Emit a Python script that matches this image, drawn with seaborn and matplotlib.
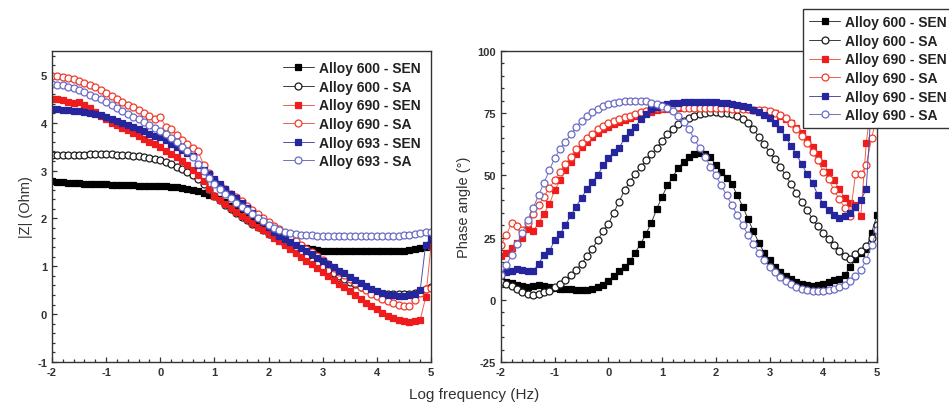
import numpy as np
import pandas as pd
import matplotlib
matplotlib.use("Agg")
import matplotlib.pyplot as plt
import seaborn as sns

# log frequency grid (Hz, log10)
log_freq = [-2.0, -1.9, -1.8, -1.7, -1.6, -1.5, -1.4, -1.3, -1.2, -1.1,
            -1.0, -0.9, -0.8, -0.7, -0.6, -0.5, -0.4, -0.3, -0.2, -0.1,
            0.0, 0.1, 0.2, 0.3, 0.4, 0.5, 0.6, 0.7, 0.8, 0.9,
            1.0, 1.1, 1.2, 1.3, 1.4, 1.5, 1.6, 1.7, 1.8, 1.9,
            2.0, 2.1, 2.2, 2.3, 2.4, 2.5, 2.6, 2.7, 2.8, 2.9,
            3.0, 3.1, 3.2, 3.3, 3.4, 3.5, 3.6, 3.7, 3.8, 3.9,
            4.0, 4.1, 4.2, 4.3, 4.4, 4.5, 4.6, 4.7, 4.8, 4.9,
            5.0]

# |Z| values (left panel)
z_600_sen = [2.78, 2.77, 2.76, 2.75, 2.75, 2.74, 2.73, 2.72, 2.72, 2.71,
             2.71, 2.70, 2.70, 2.69, 2.69, 2.69, 2.68, 2.68, 2.68, 2.68,
             2.67, 2.67, 2.66, 2.65, 2.64, 2.62, 2.60, 2.57, 2.54, 2.50,
             2.46, 2.40, 2.34, 2.27, 2.20, 2.13, 2.06, 1.98, 1.91, 1.84,
             1.77, 1.70, 1.63, 1.57, 1.51, 1.46, 1.42, 1.38, 1.36, 1.34,
             1.33, 1.32, 1.32, 1.31, 1.31, 1.31, 1.31, 1.31, 1.31, 1.31,
             1.31, 1.31, 1.31, 1.32, 1.32, 1.33, 1.34, 1.36, 1.38, 1.41,
             1.45]
z_600_sa = [3.32, 3.32, 3.32, 3.33, 3.33, 3.33, 3.33, 3.34, 3.34, 3.34,
            3.34, 3.34, 3.33, 3.33, 3.32, 3.31, 3.30, 3.29, 3.27, 3.25,
            3.22, 3.18, 3.13, 3.08, 3.03, 2.97, 2.90, 2.82, 2.72, 2.60,
            2.48, 2.38, 2.29, 2.20, 2.12, 2.04, 1.96, 1.89, 1.82, 1.75,
            1.68, 1.61, 1.54, 1.47, 1.40, 1.33, 1.26, 1.19, 1.12, 1.05,
            0.98, 0.92, 0.86, 0.80, 0.74, 0.68, 0.62, 0.57, 0.52, 0.48,
            0.45, 0.43, 0.42, 0.42, 0.42, 0.42, 0.43, 0.45, 0.48, 0.52,
            0.56]
z_690_sen = [4.50, 4.49, 4.47, 4.44, 4.42, 4.44, 4.38, 4.30, 4.23, 4.15,
             4.07, 4.00, 3.95, 3.90, 3.84, 3.78, 3.72, 3.66, 3.60, 3.55,
             3.50, 3.42, 3.35, 3.28, 3.20, 3.12, 3.02, 2.90, 2.78, 2.62,
             2.47, 2.38, 2.30, 2.22, 2.14, 2.06, 1.98, 1.90, 1.82, 1.75,
             1.68, 1.60, 1.52, 1.44, 1.36, 1.28, 1.20, 1.12, 1.04, 0.96,
             0.88, 0.80, 0.72, 0.64, 0.56, 0.48, 0.40, 0.32, 0.24, 0.17,
             0.10, 0.03, -0.03, -0.08, -0.12, -0.15, -0.16, -0.15, -0.12, 0.35,
             1.42]
z_690_sa = [4.97, 4.97, 4.96, 4.94, 4.91, 4.87, 4.83, 4.78, 4.74, 4.68,
            4.62, 4.56, 4.50, 4.44, 4.38, 4.32, 4.26, 4.20, 4.14, 4.08,
            4.12, 3.92, 3.88, 3.75, 3.65, 3.56, 3.48, 3.40, 3.12, 2.95,
            2.80, 2.70, 2.61, 2.52, 2.44, 2.36, 2.27, 2.18, 2.10, 2.01,
            1.93, 1.85, 1.77, 1.69, 1.61, 1.53, 1.45, 1.37, 1.29, 1.21,
            1.13, 1.05, 0.97, 0.89, 0.81, 0.73, 0.65, 0.57, 0.50, 0.43,
            0.37, 0.32, 0.27, 0.23, 0.20, 0.18, 0.17, 0.30, 0.45, 0.52,
            0.55]
z_693_sen = [4.29, 4.28, 4.27, 4.26, 4.25, 4.24, 4.23, 4.21, 4.19, 4.16,
             4.12, 4.08, 4.04, 4.00, 3.96, 3.92, 3.87, 3.82, 3.77, 3.73,
             3.70, 3.63, 3.56, 3.49, 3.43, 3.37, 3.30, 3.12, 3.02, 2.92,
             2.82, 2.72, 2.62, 2.52, 2.42, 2.32, 2.22, 2.12, 2.02, 1.92,
             1.82, 1.72, 1.64, 1.57, 1.50, 1.44, 1.38, 1.32, 1.25, 1.18,
             1.12, 1.05, 0.98, 0.91, 0.85, 0.78, 0.72, 0.65, 0.58, 0.53,
             0.48, 0.44, 0.41, 0.39, 0.38, 0.38, 0.40, 0.43, 0.50, 1.45,
             1.60]
z_693_sa = [4.81, 4.80, 4.78, 4.75, 4.72, 4.68, 4.64, 4.59, 4.54, 4.49,
            4.43, 4.37, 4.31, 4.25, 4.19, 4.13, 4.07, 4.01, 3.95, 3.89,
            3.83, 3.76, 3.69, 3.60, 3.50, 3.40, 3.28, 3.13, 3.00, 2.85,
            2.72, 2.62, 2.52, 2.42, 2.33, 2.25, 2.17, 2.09, 2.01, 1.94,
            1.87, 1.81, 1.76, 1.72, 1.69, 1.67, 1.66, 1.65, 1.65, 1.64,
            1.64, 1.63, 1.63, 1.63, 1.63, 1.63, 1.63, 1.63, 1.63, 1.63,
            1.63, 1.63, 1.63, 1.64, 1.64, 1.65, 1.66, 1.67, 1.69, 1.71,
            1.72]

# phase angle values (right panel)
p_600_sen = [7.5, 7.2, 6.8, 6.0, 5.5, 5.0, 5.5, 6.0, 5.7, 5.2,
             4.8, 4.4, 4.3, 4.2, 4.0, 3.8, 4.0, 4.4, 5.0, 6.0,
             7.5, 9.5, 11.5, 13.0, 15.5, 19.0, 22.5, 26.5, 31.0, 36.5,
             41.5, 46.0, 49.5, 53.0, 55.5, 57.5, 58.8, 59.2, 58.8, 57.5,
             54.0, 51.5, 49.0, 46.5, 42.0, 37.5, 32.5, 27.5, 23.0, 19.0,
             16.0, 13.0, 11.0, 9.5, 8.3, 7.0, 6.3, 6.0, 5.7, 5.9,
             6.3, 7.0, 7.8, 8.5, 10.0, 13.0, 16.5, 19.0, 20.5, 27.0,
             34.0]
p_600_sa = [7.0, 6.5, 5.5, 4.5, 3.2, 2.3, 2.0, 2.5, 3.0, 3.5,
            5.0, 6.5, 8.0, 10.0, 12.0, 14.5, 17.5, 20.5, 24.0, 27.5,
            30.5, 35.0, 39.5, 44.0, 47.5, 50.5, 53.5, 56.0, 58.5, 61.0,
            64.0, 66.5, 68.5, 70.5, 72.0, 73.0, 74.0, 74.7, 75.1, 75.3,
            75.3, 75.2, 74.9, 74.5, 73.8, 72.8, 71.0, 68.5, 65.5, 62.5,
            59.5, 56.5, 53.5, 50.0, 46.5, 43.0, 39.5, 36.0, 32.5, 29.5,
            27.0, 24.5, 22.0, 19.5, 17.5, 16.5, 18.5, 19.5, 21.5, 25.0,
            30.0]
p_690_sen = [17.5, 19.0, 21.0, 23.0, 25.0, 28.5, 27.5, 31.0, 34.5, 38.5,
             44.0, 48.0, 52.0, 55.5, 58.5, 61.3, 63.5, 65.5, 67.0, 68.5,
             69.5, 70.5, 71.5, 72.3, 73.0, 73.7, 74.4, 75.0, 75.6, 76.1,
             76.5, 76.8, 77.0, 77.2, 77.4, 77.5, 77.6, 77.6, 77.6, 77.6,
             77.5, 77.5, 77.4, 77.3, 77.1, 76.9, 76.6, 76.3, 76.0, 75.8,
             75.5, 75.0, 74.0, 72.5, 71.0, 69.0, 67.0, 64.5, 61.5, 58.5,
             55.0, 51.5, 48.0, 44.5, 41.0, 39.0, 38.0, 33.8, 63.0, 80.0,
             np.nan]
p_690_sa = [22.0, 26.0, 31.0, 29.5, 28.0, 31.0, 34.5, 38.0, 41.5, 45.0,
            48.0, 51.5, 54.5, 57.5, 60.5, 63.0, 65.0, 66.8, 68.5, 70.0,
            71.0, 72.0, 72.7, 73.3, 74.0, 74.8, 75.5, 76.0, 76.5, 77.0,
            77.2, 77.3, 77.3, 77.3, 77.2, 77.2, 77.1, 77.1, 77.0, 77.0,
            77.0, 77.0, 76.9, 76.8, 76.7, 76.6, 76.5, 76.4, 76.3, 76.1,
            75.8, 75.2, 74.2, 73.0, 71.0, 68.5, 66.0, 63.0, 59.5, 56.0,
            51.5, 48.5, 44.0, 40.5, 37.0, 33.8, 50.5, 50.5, 54.0, 65.0,
            74.0]
p_693_sen = [10.5, 11.0, 11.5, 12.3, 12.0, 11.7, 11.5, 14.5, 18.0, 19.5,
             24.0, 26.5, 30.0, 34.0, 37.5, 41.0, 44.5, 47.5, 50.0, 54.0,
             57.0, 59.5, 61.0, 65.0, 67.5, 69.5, 72.5, 74.5, 76.5, 77.5,
             78.3, 78.8, 79.1, 79.3, 79.5, 79.6, 79.6, 79.6, 79.6, 79.5,
             79.4, 79.2, 79.0, 78.7, 78.3, 77.8, 77.3, 76.3, 75.3, 74.3,
             73.0, 71.0, 68.5, 65.5, 62.0, 58.5, 54.5, 50.5, 47.0, 42.0,
             38.5, 36.0, 34.0, 33.0, 33.5, 35.0, 37.5, 40.0, 44.5, 80.0,
             np.nan]
p_693_sa = [10.0, 14.0, 18.0, 22.5, 27.0, 32.0, 37.0, 42.0, 47.0, 52.0,
            57.0, 60.5, 63.5, 66.5, 69.5, 72.0, 74.0, 75.5, 76.8, 77.8,
            78.5, 79.0, 79.5, 79.8, 80.0, 80.0, 80.0, 79.8, 79.3, 78.7,
            78.0, 77.2, 76.0, 73.8, 71.5, 68.5, 64.5, 61.0, 57.5, 53.5,
            50.0, 46.0, 42.0, 38.0, 34.0, 30.0, 26.0, 22.5, 19.0, 16.0,
            13.0, 11.0, 9.0, 7.5, 6.3, 5.2, 4.5, 4.0, 3.6, 3.4,
            3.6, 3.8, 4.2, 5.0, 6.0, 7.5, 9.5, 12.0, 16.0, 22.0,
            28.0]

left_labels = ["Alloy 600 - SEN", "Alloy 600 - SA", "Alloy 690 - SEN",
               "Alloy 690 - SA", "Alloy 693 - SEN", "Alloy 693 - SA"]
right_labels = ["Alloy 600 - SEN", "Alloy 600 - SA", "Alloy 690 - SEN",
                "Alloy 690 - SA", "Alloy 690 - SEN", "Alloy 690 - SA"]

# (line colour, face colour, edge colour, marker)
styles = [("#3a3a3a", "#000000", "#000000", "s"),
          ("#3a3a3a", "white", "#1a1a1a", "o"),
          ("#f06050", "#ee1c1c", "#ee1c1c", "s"),
          ("#f06050", "white", "#f03a2a", "o"),
          ("#5050a8", "#25259e", "#25259e", "s"),
          ("#7070c0", "white", "#6a6ac8", "o")]

sns.set_style("ticks")
plt.rcParams["font.family"] = ["Liberation Sans", "DejaVu Sans"]
plt.rcParams["axes.unicode_minus"] = False

fig = plt.figure(figsize=(9.49, 4.06), dpi=100)
ax1 = fig.add_axes([0.0548, 0.1059, 0.3994, 0.766])
ax2 = fig.add_axes([0.5279, 0.1059, 0.3962, 0.766])


def draw(ax, series, labels):
    for vals, lab, (lc, fc, ec, mk) in zip(series, labels, styles):
        df = pd.DataFrame({"x": log_freq, "y": vals})
        sz = 4.4 if mk == "s" else 5.0
        sns.lineplot(data=df, x="x", y="y", ax=ax, color=lc, linewidth=0.7,
                     marker=mk, markersize=sz, markerfacecolor=fc,
                     markeredgecolor=ec, markeredgewidth=0.9, label=lab,
                     sort=False, estimator=None)


draw(ax1, [z_600_sen, z_600_sa, z_690_sen, z_690_sa, z_693_sen, z_693_sa], left_labels)
draw(ax2, [p_600_sen, p_600_sa, p_690_sen, p_690_sa, p_693_sen, p_693_sa], right_labels)

ax1.set_xlim(-2, 5)
ax1.set_ylim(-1, 5.5)
ax1.set_yticks([-1, 0, 1, 2, 3, 4, 5])
ax2.set_xlim(-2, 5)
ax2.set_ylim(-25, 100)
ax2.set_yticks([-25, 0, 25, 50, 75, 100])

for ax in (ax1, ax2):
    ax.set_xticks([-2, -1, 0, 1, 2, 3, 4, 5])
    ax.minorticks_on()
    ax.tick_params(which="both", direction="in", top=False, right=False,
                   labelsize=8, width=0.9, color="#333333")
    ax.tick_params(which="major", length=3.5)
    ax.tick_params(which="minor", length=2)
    for lbl in ax.get_xticklabels() + ax.get_yticklabels():
        lbl.set_fontweight("bold")
        lbl.set_color("#333333")
    for sp in ax.spines.values():
        sp.set_linewidth(1.0)
        sp.set_color("#333333")
    ax.set_xlabel("")

ax1.set_ylabel("|Z| (Ohm)", fontsize=10.5, color="#333333", labelpad=3)
ax2.set_ylabel("Phase angle (°)", fontsize=10.5, color="#333333", labelpad=5)
fig.text(0.5, 0.027, "Log frequency (Hz)", ha="center", va="center",
         fontsize=11, color="#333333")

leg_font = {"weight": "bold", "size": 10}
leg1 = ax1.legend(loc="upper left", bbox_to_anchor=(0.595, 0.985), frameon=False,
                  prop=leg_font, handlelength=2.2, handletextpad=0.35,
                  labelspacing=0.33, borderaxespad=0)
leg2 = fig.legend(*ax2.get_legend_handles_labels(), loc="upper left",
                  bbox_to_anchor=(803 / 949, 1 - 10 / 406), frameon=True,
                  fancybox=False, edgecolor="#333333", framealpha=1,
                  prop=leg_font, handlelength=2.2, handletextpad=0.35,
                  labelspacing=0.33, borderaxespad=0, borderpad=0.45)
leg2.get_frame().set_linewidth(1.0)
ax2.get_legend().remove()
for leg in (leg1, leg2):
    for t in leg.get_texts():
        t.set_color("#222222")

fig.savefig("out.png", dpi=100)
